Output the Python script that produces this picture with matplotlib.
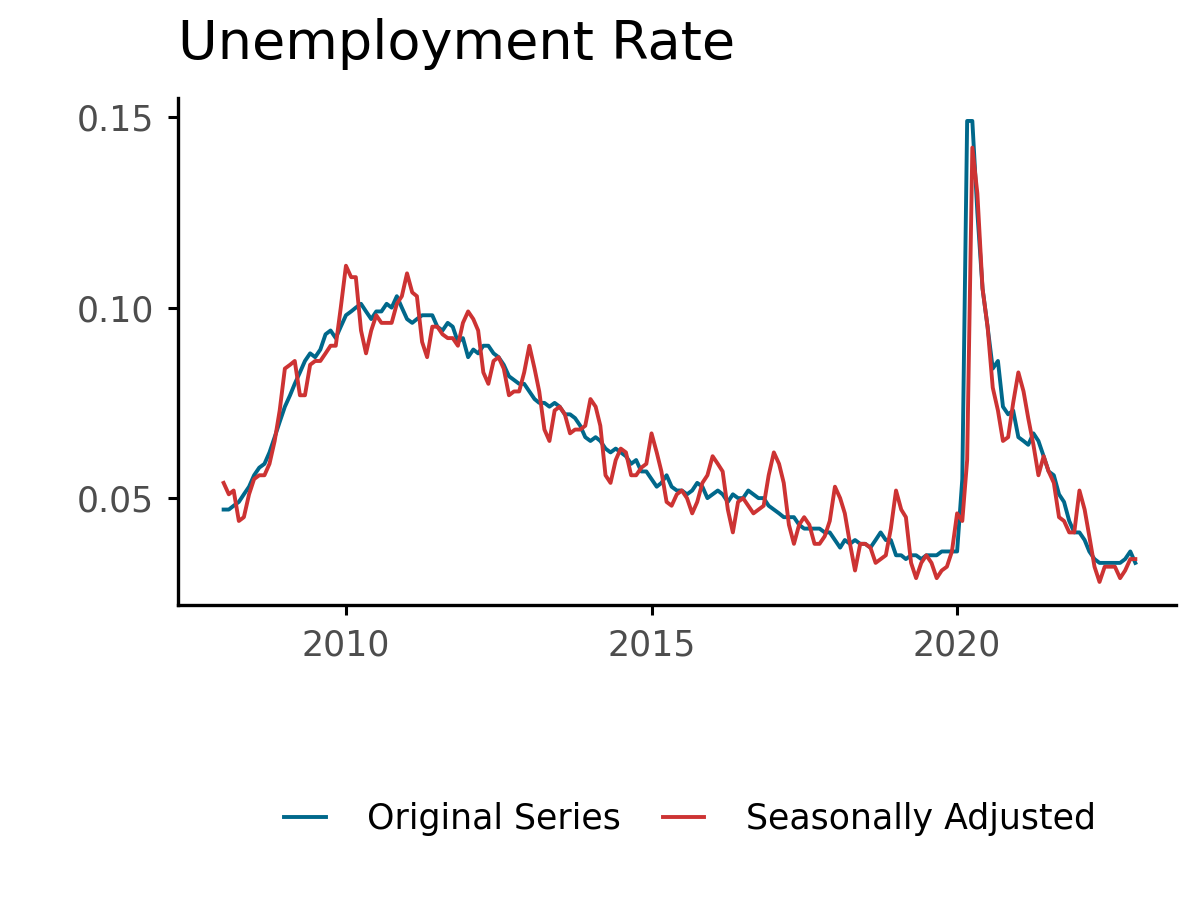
import matplotlib
matplotlib.use("Agg")
import matplotlib.pyplot as plt
import numpy as np
import pandas as pd

original = [
0.047,0.047,0.048,0.049,0.051,0.053,0.056,0.058,0.059,0.062,0.066,0.070,
0.074,0.077,0.080,0.083,0.086,0.088,0.087,0.089,0.093,0.094,0.092,0.095,
0.098,0.099,0.100,0.101,0.099,0.097,0.099,0.099,0.101,0.100,0.103,0.100,
0.097,0.096,0.097,0.098,0.098,0.098,0.095,0.094,0.096,0.095,0.091,0.092,
0.087,0.089,0.088,0.090,0.090,0.088,0.087,0.085,0.082,0.081,0.080,0.080,
0.078,0.076,0.075,0.075,0.074,0.075,0.074,0.072,0.072,0.071,0.069,0.066,
0.065,0.066,0.065,0.063,0.062,0.063,0.062,0.061,0.059,0.060,0.057,0.057,
0.055,0.053,0.054,0.056,0.053,0.052,0.052,0.051,0.052,0.054,0.053,0.050,
0.051,0.052,0.051,0.049,0.051,0.050,0.050,0.052,0.051,0.050,0.050,0.048,
0.047,0.046,0.045,0.045,0.045,0.043,0.042,0.042,0.042,0.042,0.041,0.041,
0.039,0.037,0.039,0.038,0.039,0.038,0.038,0.037,0.039,0.041,0.039,0.039,
0.035,0.035,0.034,0.035,0.035,0.034,0.035,0.035,0.035,0.036,0.036,0.036,
0.036,0.055,0.149,0.149,0.125,0.105,0.095,0.084,0.086,0.074,0.072,0.073,
0.066,0.065,0.064,0.067,0.065,0.061,0.057,0.056,0.051,0.049,0.044,0.041,
0.041,0.039,0.036,0.034,0.033,0.033,0.033,0.033,0.033,0.034,0.036,0.033]
adjusted = [
0.054,0.051,0.052,0.044,0.045,0.051,0.055,0.056,0.056,0.059,0.065,0.073,
0.084,0.085,0.086,0.077,0.077,0.085,0.086,0.086,0.088,0.090,0.090,0.100,
0.111,0.108,0.108,0.094,0.088,0.094,0.098,0.096,0.096,0.096,0.101,0.103,
0.109,0.104,0.103,0.091,0.087,0.095,0.095,0.093,0.092,0.092,0.090,0.096,
0.099,0.097,0.094,0.083,0.080,0.086,0.087,0.084,0.077,0.078,0.078,0.083,
0.090,0.084,0.078,0.068,0.065,0.073,0.074,0.072,0.067,0.068,0.068,0.069,
0.076,0.074,0.069,0.056,0.054,0.060,0.063,0.062,0.056,0.056,0.058,0.059,
0.067,0.062,0.057,0.049,0.048,0.051,0.052,0.050,0.046,0.049,0.054,0.056,
0.061,0.059,0.057,0.047,0.041,0.049,0.050,0.048,0.046,0.047,0.048,0.056,
0.062,0.059,0.054,0.043,0.038,0.043,0.045,0.043,0.038,0.038,0.040,0.044,
0.053,0.050,0.046,0.038,0.031,0.038,0.038,0.037,0.033,0.034,0.035,0.042,
0.052,0.047,0.045,0.033,0.029,0.033,0.035,0.033,0.029,0.031,0.032,0.036,
0.046,0.044,0.060,0.142,0.130,0.105,0.095,0.079,0.073,0.065,0.066,0.075,
0.083,0.078,0.071,0.064,0.056,0.061,0.057,0.054,0.045,0.044,0.041,0.041,
0.052,0.047,0.040,0.032,0.028,0.032,0.032,0.032,0.029,0.031,0.034,0.034]
dates = pd.date_range("2008-01-01", periods=len(original), freq="MS")

plt.rcParams['font.family'] = ['DejaVu Sans']
fig = plt.figure(figsize=(12, 9), dpi=100)
ax = fig.add_axes([0.148, 0.328, 0.832, 0.563])
ax.plot(dates, original, color="#00688b", lw=2.8, label="Original Series")
ax.plot(dates, adjusted, color="#cd3333", lw=2.8, label="Seasonally Adjusted")
ax.set_ylim(0.022, 0.155)
ax.set_xlim(pd.Timestamp("2007-04-01"), pd.Timestamp("2023-08-01"))
ax.set_yticks([0.05, 0.10, 0.15])
ax.set_yticklabels(["0.05", "0.10", "0.15"])
ax.set_xticks([pd.Timestamp(f"{y}-01-01") for y in (2010, 2015, 2020)])
ax.set_xticklabels(["2010", "2015", "2020"])
for s in ["top", "right"]:
    ax.spines[s].set_visible(False)
for s in ["left", "bottom"]:
    ax.spines[s].set_linewidth(2.4)
ax.tick_params(labelsize=25, colors="black", labelcolor="#4d4d4d", width=2.2, length=7, pad=10)
fig.text(0.148, 0.922, "Unemployment Rate", fontsize=39, ha="left", va="bottom")
fig.legend(loc="center", bbox_to_anchor=(0.575, 0.09), ncol=2, frameon=False,
           fontsize=25, handlelength=1.2, columnspacing=1.2, handletextpad=1.2)
fig.savefig("out.png")
